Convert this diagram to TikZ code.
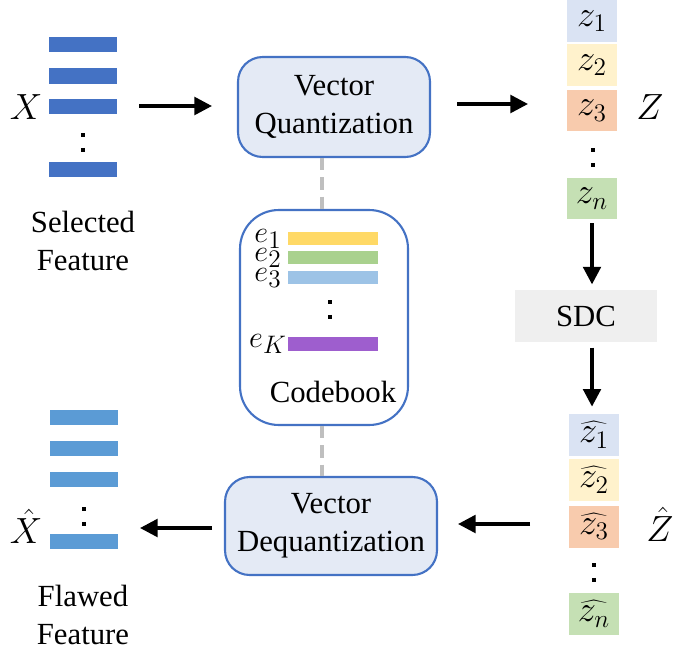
\documentclass[tikz,border=0pt]{standalone}
\usepackage{fontspec}
\setmainfont{Liberation Serif}
\usetikzlibrary{arrows.meta}
\definecolor{barblue}{HTML}{4472C4}
\definecolor{barlight}{HTML}{5B9BD5}
\definecolor{boxfill}{HTML}{E4EAF5}
\definecolor{zone}{HTML}{DAE3F3}
\definecolor{ztwo}{HTML}{FFF2CC}
\definecolor{zthree}{HTML}{F8CBAD}
\definecolor{zfour}{HTML}{C5E0B4}
\definecolor{eone}{HTML}{FFD966}
\definecolor{etwo}{HTML}{A9D18E}
\definecolor{ethree}{HTML}{9DC3E6}
\definecolor{efour}{HTML}{9E5ECE}
\definecolor{sdcgray}{HTML}{EFEFEF}
\tikzset{
  proc/.style={draw=barblue, line width=1.2pt, fill=boxfill, rounded corners=14pt, align=center},
  zbox/.style={minimum width=1cm, minimum height=0.84cm, inner sep=0pt, font=\fontsize{21}{24}\selectfont},
  mlabel/.style={font=\fontsize{21}{24}\selectfont},
  elabel/.style={font=\fontsize{19}{22}\selectfont, inner sep=0pt},
  flow/.style={-{Triangle[length=10pt,width=10pt]}, line width=2pt},
  link/.style={draw=gray!50, line width=2pt, dash pattern=on 7pt off 4pt},
  vdots/.style={line width=2.5pt, dash pattern=on 2.5pt off 6pt}
}
\begin{document}
\begin{tikzpicture}[x=0.02cm, y=-0.02cm, font=\fontsize{17.5}{21.6}\selectfont]
  \useasboundingbox (0,0) rectangle (685,652);
  % selected feature
  \foreach \y in {45,76,106,169} \fill[barblue] (49,\y-7.5) rectangle (117,\y+7.5);
  \draw[vdots] (83,133) -- (83,160);
  \node[mlabel] (x) at (26,107) {$X$};
  \node[align=center] (sel) at (83,241) {Selected\\Feature};
  % quantization
  \node[proc, minimum width=3.84cm, minimum height=2cm] (vq) at (334,107) {Vector\\Quantization};
  \coordinate (a1s) at (139,106); \coordinate (a1e) at (212,106);
  \draw[flow] (a1s) -- (a1e);
  % codes
  \node[zbox, fill=zone] (z1) at (592,21) {$z_1$};
  \node[zbox, fill=ztwo] (z2) at (592,65) {$z_2$};
  \node[zbox, fill=zthree] (z3) at (592,110.5) {$z_3$};
  \draw[vdots] (593,148) -- (593,172);
  \node[zbox, fill=zfour] (zn) at (592,198.5) {$z_n$};
  \node[mlabel] (zlab) at (650,107) {$Z$};
  \coordinate (a2s) at (457,104); \coordinate (a2e) at (528,104);
  \draw[flow] (a2s) -- (a2e);
  % sdc
  \node[fill=sdcgray, minimum width=2.84cm, minimum height=1.04cm] (sdc) at (586,316) {SDC};
  \draw[flow, shorten >=3pt, shorten <=2pt] (zn) -- (zn |- sdc.north);
  % reconstructed codes
  \node[zbox, fill=zone] (h1) at (594,435) {$\widehat{z_1}$};
  \node[zbox, fill=ztwo] (h2) at (594,480) {$\widehat{z_2}$};
  \node[zbox, fill=zthree] (h3) at (594,526.5) {$\widehat{z_3}$};
  \draw[vdots] (594,563) -- (594,588);
  \node[zbox, fill=zfour] (hn) at (594,614) {$\widehat{z_n}$};
  \node[mlabel] (zhlab) at (660,524) {$\hat{Z}$};
  \draw[flow, shorten >=4pt, shorten <=3pt] (sdc.south -| zn) -- (h1.north -| zn);
  % dequantization
  \node[proc, minimum width=4.24cm, minimum height=1.96cm] (vd) at (331,526) {Vector\\Dequantization};
  \coordinate (a5s) at (530,524); \coordinate (a5e) at (458,524);
  \draw[flow] (a5s) -- (a5e);
  % codebook
  \node[draw=barblue, line width=1.2pt, fill=white, rounded corners=22pt, minimum width=3.36cm, minimum height=4.3cm] (cb) at (324,317.5) {};
  \draw[link] (vq.south -| 322,0) -- (cb.north -| 322,0);
  \draw[link] (cb.south -| 322,0) -- (vd.north -| 322,0);
  \fill[eone] (288,232) rectangle (378,245);
  \fill[etwo] (288,251) rectangle (378,264);
  \fill[ethree] (288,271) rectangle (378,284);
  \fill[efour] (288,337) rectangle (378,351);
  \draw[vdots] (330,300) -- (330,326);
  \node[elabel] (e1) at (268,239) {$e_1$};
  \node[elabel] (e2) at (268,258) {$e_2$};
  \node[elabel] (e3) at (268,278) {$e_3$};
  \node[elabel] (ek) at (268,344) {$e_K$};
  \node (cbl) at (333,392) {Codebook};
  % flawed feature
  \foreach \y in {417,448,479,541} \fill[barlight] (50,\y-7.5) rectangle (118,\y+7.5);
  \draw[vdots] (84,507) -- (84,532);
  \node[mlabel] (xh) at (26,526) {$\hat{X}$};
  \node[align=center] (flaw) at (83,615) {Flawed\\Feature};
  \coordinate (a6s) at (212,528); \coordinate (a6e) at (140,528);
  \draw[flow] (a6s) -- (a6e);
\end{tikzpicture}
\end{document}
